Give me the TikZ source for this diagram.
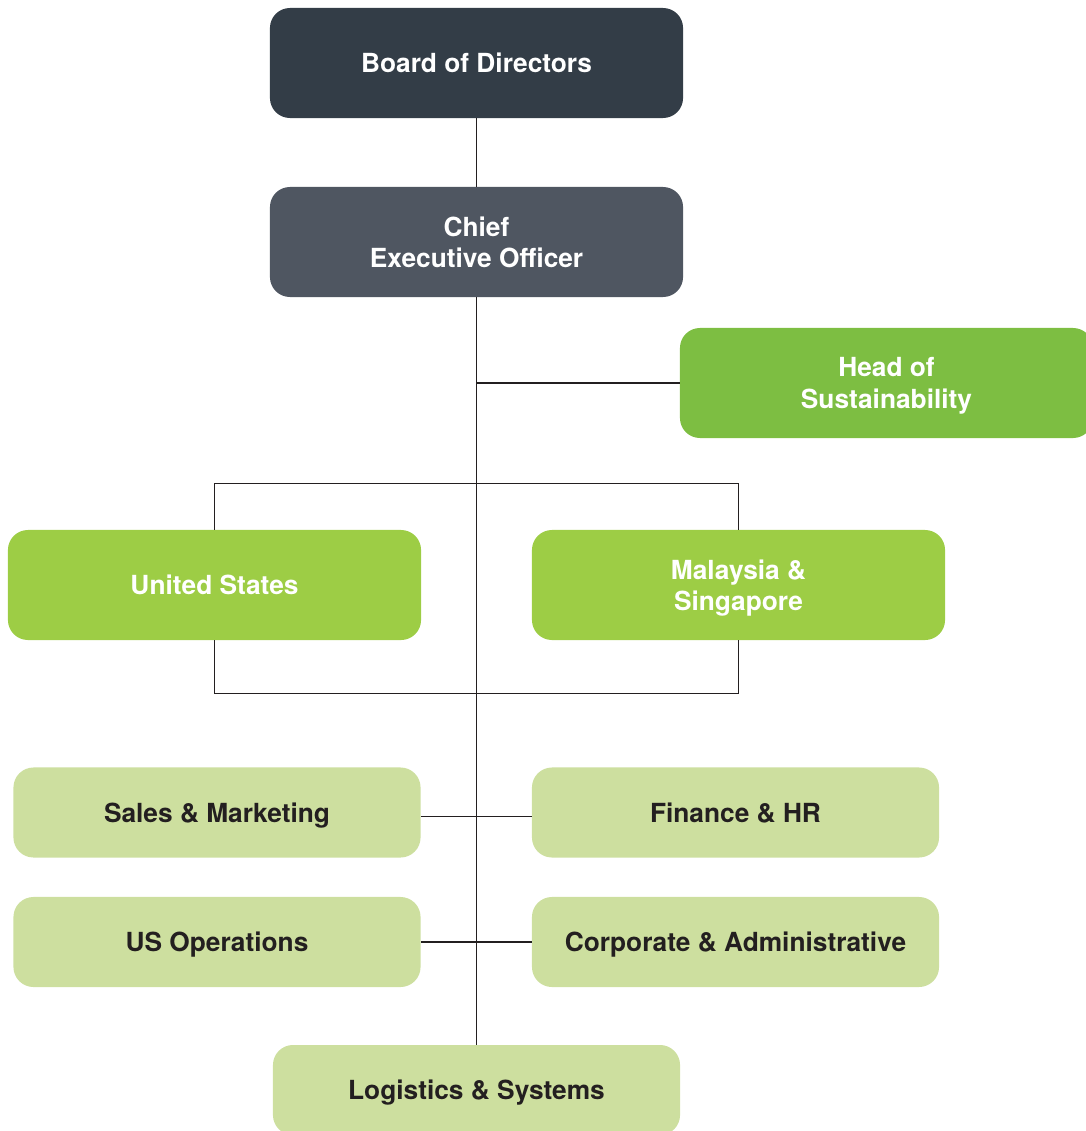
\documentclass[tikz,border=0pt]{standalone}
\usepackage{fontspec}
\setmainfont{TeX Gyre Heros}

\definecolor{boardgray}{HTML}{333D47}
\definecolor{ceogray}{HTML}{4F5661}
\definecolor{sustgreen}{HTML}{7DBE42}
\definecolor{regiongreen}{HTML}{9DCD45}
\definecolor{deptgreen}{HTML}{CDDF9F}
\definecolor{inkblack}{HTML}{231F20}

\begin{document}
\begin{tikzpicture}[x=0.025cm, y=-0.025cm,
  unit/.style={rectangle, rounded corners=0.5cm, align=center, inner sep=0pt, text depth=0pt,
    font=\bfseries\fontsize{18.7}{22.4}\selectfont},
  topbox/.style={unit, minimum width=10.325cm, minimum height=2.75cm, text=white},
  deptbox/.style={unit, minimum width=10.175cm, minimum height=2.25cm, text=inkblack, fill=deptgreen},
  link/.style={line width=0.85pt, draw=inkblack}]
\useasboundingbox (0, 0) rectangle (1085, 1131);

\node at (476.5, 63) [topbox, fill=boardgray] (board) {Board of Directors};
\node at (476.5, 242) [topbox, fill=ceogray] (ceo) {Chief\\Executive Officer};
\node at (886.5, 383) [topbox, fill=sustgreen] (hos) {Head of\\Sustainability};

\node at (214.5, 585) [topbox, fill=regiongreen] (us) {United States};
\node at (738.5, 585) [topbox, fill=regiongreen] (mys) {Malaysia \&\\Singapore};

\node at (217, 812.5) [deptbox] (sales) {Sales \& Marketing};
\node at (735.5, 812.5) [deptbox] (finance) {Finance \& HR};
\node at (217, 942) [deptbox] (usops) {US Operations};
\node at (735.5, 942) [deptbox] (corp) {Corporate \& Administrative};
\node at (476.5, 1090) [deptbox] (logistics) {Logistics \& Systems};

\draw[link] (board.south) -- (ceo.north);
\draw[link] (ceo.south) -- (logistics.north);
\draw[link] (ceo.south |- hos.west) -- (hos.west);

% frame round the two regions
\draw[link] (us.north) -- ++(0, -46) -| (mys.north);
\draw[link] (us.south) -- ++(0, 53) -| (mys.south);

\draw[link] ([yshift=-0.09cm]sales.east) -- ([yshift=-0.09cm]finance.west);
\draw[link] (usops.east) -- (corp.west);
\end{tikzpicture}
\end{document}
